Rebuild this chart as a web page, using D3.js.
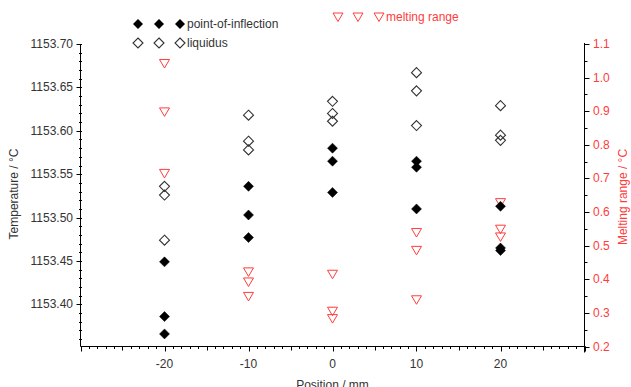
<!DOCTYPE html>
<html>
<head>
<meta charset="utf-8">
<script src="https://cdn.jsdelivr.net/npm/d3@7"></script>
<style>
  body { margin: 0; padding: 0; background: #fff; overflow: hidden; }
  svg { font-family: "Liberation Sans", Arial, sans-serif; }
</style>
</head>
<body>
<svg id="chart" width="631" height="387"></svg>
<script>
// positions along the sample (mm)
var positions = [-20, -10, 0, 10, 20];

// temperatures (deg C), three readings per position
var inflection = [
  [1153.449, 1153.386, 1153.366],
  [1153.536, 1153.503, 1153.477],
  [1153.580, 1153.565, 1153.529],
  [1153.565, 1153.558, 1153.510],
  [1153.513, 1153.465, 1153.462]
];
var liquidus = [
  [1153.536, 1153.526, 1153.474],
  [1153.618, 1153.588, 1153.578],
  [1153.634, 1153.620, 1153.611],
  [1153.667, 1153.646, 1153.606],
  [1153.629, 1153.595, 1153.589]
];
// melting range (deg C)
var meltRange = [
  [1.042, 0.898, 0.715],
  [0.422, 0.392, 0.349],
  [0.415, 0.305, 0.283],
  [0.539, 0.486, 0.339],
  [0.628, 0.549, 0.526]
];

var leftTicks = [1153.40, 1153.45, 1153.50, 1153.55, 1153.60, 1153.65, 1153.70];
var rightTicks = [0.2, 0.3, 0.4, 0.5, 0.6, 0.7, 0.8, 0.9, 1.0, 1.1];
var xTicks = [-20, -10, 0, 10, 20];

var red = "#ff3c3c";
var txt = "#333";

var pLeft = 80.5, pRight = 584.5, pTop = 44, pBottom = 346.5;
var svg = d3.select("#chart");

var x = d3.scaleLinear().domain([-30, 30]).range([pLeft, pRight]);
var yL = d3.scaleLinear().domain([1153.3515, 1153.70]).range([pBottom, pTop]);
var yR = d3.scaleLinear().domain([0.2, 1.1]).range([pBottom, pTop]);

// x axis: minor every 1, mid every 5, labels every 10
var gx = svg.append("g").attr("transform", "translate(0," + pBottom + ")");
gx.append("line").attr("x1", pLeft).attr("x2", pRight + 1).attr("stroke", "#000");
gx.selectAll(".minor").data(d3.range(-30, 31, 1)).enter().append("line")
  .attr("x1", d => Math.round(x(d)) + 0.5).attr("x2", d => Math.round(x(d)) + 0.5)
  .attr("y1", 0).attr("y2", d => d % 10 === 0 ? 5 : (d % 5 === 0 ? 4 : 2.5))
  .attr("stroke", "#000");
gx.selectAll(".lab").data(xTicks).enter().append("text")
  .attr("x", d => x(d)).attr("y", 21).attr("text-anchor", "middle")
  .attr("font-size", 12).attr("fill", txt).text(d => d);
svg.append("text").attr("x", x(0)).attr("y", 389).attr("text-anchor", "middle")
  .attr("font-size", 12).attr("fill", txt).text("Position / mm");

// left axis
var gl = svg.append("g");
gl.append("line").attr("x1", pLeft).attr("x2", pLeft).attr("y1", pTop).attr("y2", pBottom).attr("stroke", "#000");
gl.selectAll(".minor").data(d3.range(1153.36, 1153.7001, 0.01)).enter().append("line")
  .attr("x1", pLeft - 1.5).attr("x2", pLeft + 1.5)
  .attr("y1", d => Math.round(yL(d)) + 0.5).attr("y2", d => Math.round(yL(d)) + 0.5)
  .attr("stroke", "#000");
gl.selectAll(".major").data(leftTicks).enter().append("line")
  .attr("x1", pLeft - 4).attr("x2", pLeft)
  .attr("y1", d => Math.round(yL(d)) + 0.5).attr("y2", d => Math.round(yL(d)) + 0.5)
  .attr("stroke", "#000");
gl.selectAll(".lab").data(leftTicks).enter().append("text")
  .attr("x", 73).attr("y", d => yL(d) + 4).attr("text-anchor", "end")
  .attr("font-size", 12).attr("fill", txt).text(d => d.toFixed(2));
svg.append("text").attr("transform", "translate(18,194) rotate(-90)")
  .attr("text-anchor", "middle").attr("font-size", 12).attr("fill", txt)
  .text("Temperature / °C");

// right axis
var gr = svg.append("g");
gr.append("line").attr("x1", pRight).attr("x2", pRight).attr("y1", pTop - 1).attr("y2", pBottom + 6).attr("stroke", "#000");
gr.selectAll(".minor").data(d3.range(0.25, 1.1, 0.1)).enter().append("line")
  .attr("x1", pRight).attr("x2", pRight + 3)
  .attr("y1", d => Math.round(yR(d)) + 0.5).attr("y2", d => Math.round(yR(d)) + 0.5)
  .attr("stroke", "#000");
gr.selectAll(".major").data(rightTicks).enter().append("line")
  .attr("x1", pRight).attr("x2", pRight + 5)
  .attr("y1", d => Math.round(yR(d)) + 0.5).attr("y2", d => Math.round(yR(d)) + 0.5)
  .attr("stroke", "#000");
gr.selectAll(".lab").data(rightTicks).enter().append("text")
  .attr("x", 593).attr("y", d => yR(d) + 4)
  .attr("font-size", 12).attr("fill", red).text(d => d.toFixed(1));
svg.append("text").attr("transform", "translate(627,197) rotate(-90)")
  .attr("text-anchor", "middle").attr("font-size", 12).attr("fill", red)
  .text("Melting range / °C");

// markers
function diamond(cx, cy) {
  var r = 5;
  return "M" + cx + "," + (cy - r) + "L" + (cx + r) + "," + cy + "L" + cx + "," + (cy + r) + "L" + (cx - r) + "," + cy + "Z";
}
function triDown(cx, cy) {
  return "M" + (cx - 5) + "," + (cy - 4) + "L" + (cx + 5) + "," + (cy - 4) + "L" + cx + "," + (cy + 4.5) + "Z";
}

function flat(arr) {
  var out = [];
  arr.forEach(function(vals, i) { vals.forEach(function(v) { out.push({pos: positions[i], v: v}); }); });
  return out;
}

svg.append("g").selectAll("path").data(flat(meltRange)).enter().append("path")
  .attr("d", d => triDown(x(d.pos), yR(d.v)))
  .attr("fill", "none").attr("stroke", red).attr("stroke-width", 1);
svg.append("g").selectAll("path").data(flat(liquidus)).enter().append("path")
  .attr("d", d => diamond(x(d.pos), yL(d.v)))
  .attr("fill", "none").attr("stroke", "#333").attr("stroke-width", 1.1);
svg.append("g").selectAll("path").data(flat(inflection)).enter().append("path")
  .attr("d", d => diamond(x(d.pos), yL(d.v)))
  .attr("fill", "#000").attr("stroke", "#000").attr("stroke-width", 0.5);

// legend
var legX = [138, 159, 180];
var leg = svg.append("g");
leg.selectAll(".f").data(legX).enter().append("path")
  .attr("d", d => diamond(d, 24)).attr("fill", "#000");
leg.append("text").attr("x", 187).attr("y", 28).attr("font-size", 12).attr("fill", txt).text("point-of-inflection");
leg.selectAll(".o").data(legX).enter().append("path")
  .attr("d", d => diamond(d, 43)).attr("fill", "none").attr("stroke", "#333").attr("stroke-width", 1.1);
leg.append("text").attr("x", 187).attr("y", 47).attr("font-size", 12).attr("fill", txt).text("liquidus");
leg.selectAll(".t").data([338, 358, 379]).enter().append("path")
  .attr("d", d => triDown(d, 17)).attr("fill", "none").attr("stroke", red);
leg.append("text").attr("x", 386).attr("y", 21).attr("font-size", 12).attr("fill", red).text("melting range");
</script>
</body>
</html>
